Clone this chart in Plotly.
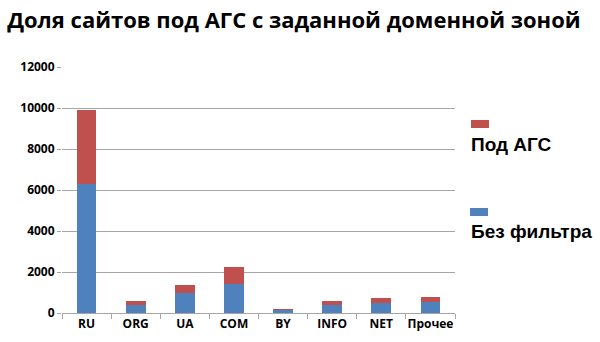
import plotly.graph_objects as go

categories = ["RU", "ORG", "UA", "COM", "BY", "INFO", "NET", "Прочее"]
bez_filtra = [6280, 400, 970, 1400, 180, 390, 500, 530]
pod_ags = [3600, 200, 400, 850, 10, 210, 230, 230]
y_ticks = [0, 2000, 4000, 6000, 8000, 10000, 12000]

BLUE = "#4F81BD"
RED = "#C0504D"
FONT = "Open Sans"

fig = go.Figure()
fig.add_trace(go.Bar(x=categories, y=bez_filtra, name="Без фильтра",
                     marker=dict(color=BLUE, line=dict(width=0)), showlegend=False))
fig.add_trace(go.Bar(x=categories, y=pod_ags, name="Под АГС",
                     marker=dict(color=RED, line=dict(width=0)), showlegend=False))

fig.update_layout(
    barmode="stack",
    bargap=0.6,
    width=600, height=342,
    margin=dict(l=62, r=145, t=67, b=29, autoexpand=False),
    paper_bgcolor="white", plot_bgcolor="white",
    font=dict(family=FONT, color="black"),
    title=dict(text="<b>Доля сайтов под АГС с заданной доменной зоной</b>",
               x=0.012, xanchor="left", y=0.94, yanchor="middle",
               font=dict(size=22, family=FONT, color="black")),
)
fig.update_yaxes(range=[0, 12000], tickvals=y_ticks,
                 ticktext=[f"<b>{v}</b>" for v in y_ticks],
                 showgrid=True, gridcolor="#A6A6A6", gridwidth=1,
                 zeroline=False, showline=False, automargin=False,
                 ticks="outside", ticklen=4, tickcolor="#A6A6A6",
                 tickfont=dict(size=12, family=FONT, color="black"))
fig.update_xaxes(tickvals=categories, ticktext=[f"<b>{c}</b>" for c in categories],
                 showline=True, linecolor="#A6A6A6", linewidth=1,
                 ticks="outside", ticklen=5, tickcolor="#A6A6A6",
                 tickson="boundaries", tickangle=0, automargin=False,
                 tickfont=dict(size=12, family=FONT, color="black"))

# legend (swatch above label)
fig.add_shape(type="rect", xref="paper", yref="paper",
              x0=(471 - 62) / 393, x1=(489 - 62) / 393,
              y0=(313 - 128) / 246, y1=(313 - 120) / 246,
              fillcolor=RED, line=dict(width=0))
fig.add_annotation(xref="paper", yref="paper", x=(469 - 62) / 393,
                   y=(313 - 144) / 246, xanchor="left", yanchor="middle",
                   text="<b>Под АГС</b>", showarrow=False,
                   font=dict(size=19, family="Liberation Sans", color="black"))
fig.add_shape(type="rect", xref="paper", yref="paper",
              x0=(470 - 62) / 393, x1=(488 - 62) / 393,
              y0=(313 - 216) / 246, y1=(313 - 208) / 246,
              fillcolor=BLUE, line=dict(width=0))
fig.add_annotation(xref="paper", yref="paper", x=(469 - 62) / 393,
                   y=(313 - 232) / 246, xanchor="left", yanchor="middle",
                   text="<b>Без фильтра</b>", showarrow=False,
                   font=dict(size=19, family="Liberation Sans", color="black"))

fig.write_html("out.html")
